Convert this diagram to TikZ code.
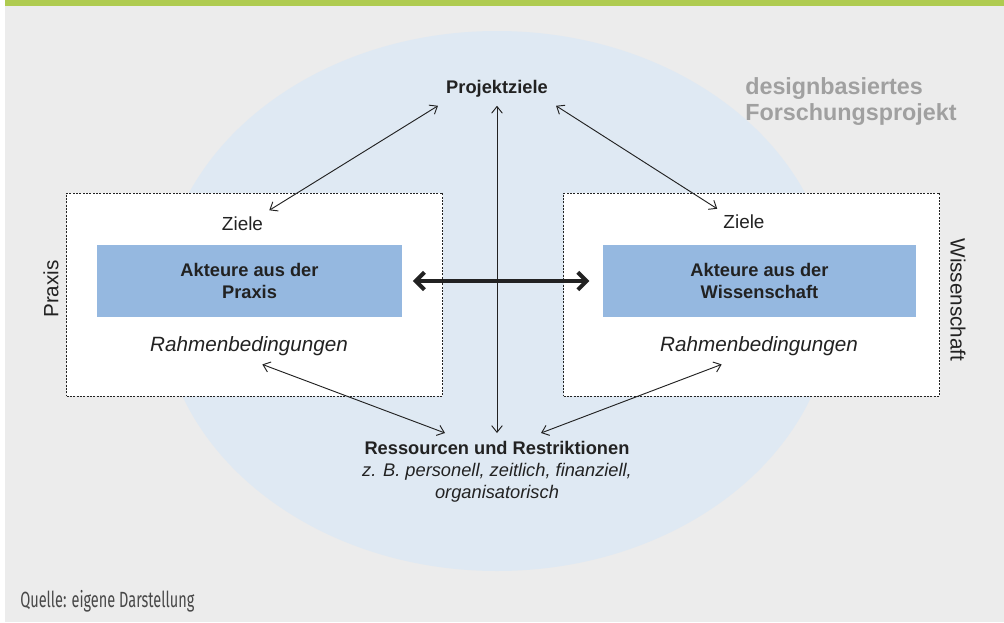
\documentclass[tikz,border=0pt]{standalone}
\usepackage{fontspec}
\setmainfont{Liberation Sans}
\newfontfamily\quellefont[FakeStretch=0.66]{Fira Sans}
\usetikzlibrary{shapes, calc, arrows.meta, positioning}
\definecolor{barGreen}{RGB}{175,203,80}
\definecolor{bgGray}{RGB}{236,236,236}
\definecolor{projBlue}{RGB}{223,233,243}
\definecolor{actorBlue}{RGB}{149,184,224}
\definecolor{textDark}{RGB}{34,34,34}
\definecolor{headGray}{RGB}{160,160,160}
\definecolor{srcGray}{RGB}{72,72,72}
\tikzstyle{frameBox}=[draw=textDark, dash pattern=on 1.5pt off 1pt, line width=0.6pt, fill=white, minimum width=282pt, minimum height=152.25pt, inner sep=0pt]
\tikzstyle{actorBox}=[fill=actorBlue, minimum height=54pt, align=center, text=textDark, font=\bfseries\fontsize{13.7}{16.3}\selectfont]
\tikzstyle{zieleText}=[text=textDark, inner sep=4.5pt, font=\fontsize{14.2}{17}\selectfont]
\tikzstyle{rahmen}=[text=textDark, inner sep=6pt, font=\itshape\fontsize{15.5}{18}\selectfont]
\tikzstyle{side}=[text=textDark, font=\fontsize{15.5}{18}\selectfont]
\tikzstyle{mutual}=[{Straight Barb[length=5pt,width=8pt]}-{Straight Barb[length=5pt,width=8pt]}, line width=0.7pt, draw=textDark]
\tikzstyle{strongMutual}=[{Straight Barb[length=6.5pt,width=13pt]}-{Straight Barb[length=6.5pt,width=13pt]}, line width=3pt, draw=textDark]

\begin{document}
\begin{tikzpicture}[x=0.75pt, y=-0.75pt]
    \useasboundingbox (0,0) rectangle (1004,622);
    \fill[bgGray] (5,6) rectangle (1004,622);
    \fill[barGreen] (5,0) rectangle (1004,6);
    \fill[projBlue] (497,301) ellipse [x radius=336, y radius=270];

    \node (heading)[anchor=north west, align=left, inner sep=0pt, text=headGray, font=\bfseries\fontsize{17.5}{19.5}\selectfont] at (745,77) {designbasiertes\\Forschungsprojekt};
    \node (pz)[text=textDark, inner sep=6pt, font=\bfseries\fontsize{13.7}{16}\selectfont] at (497,89) {Projektziele};

    % Praxis
    \node (praxisBox)[frameBox] at (254.5,294.5) {};
    \node (praxis)[side, rotate=90] at (51,289) {Praxis};
    \node (zl)[zieleText] at (242.5,223.5) {Ziele};
    \node (pbl)[actorBox, minimum width=228.75pt] at (249.5,281) {Akteure aus der\\Praxis};
    \node (rbl)[rahmen] at (249,346.5) {Rahmenbedingungen};

    % Wissenschaft
    \node (wissBox)[frameBox] at (751.5,294.5) {};
    \node (wiss)[side, rotate=-90] at (958,300) {Wissenschaft};
    \node (zr)[zieleText] at (744,222) {Ziele};
    \node (wbl)[actorBox, minimum width=234.75pt] at (759.5,281) {Akteure aus der\\Wissenschaft};
    \node (rbr)[rahmen] at (759,346.5) {Rahmenbedingungen};

    \node (rr)[anchor=north, align=center, inner xsep=0pt, inner ysep=6pt, text=textDark, font=\fontsize{13.7}{16.5}\selectfont] at (497,433)
        {\textbf{Ressourcen und Restriktionen}\\\textit{z. B. personell, zeitlich, finanziell,}\\\textit{organisatorisch}};

    \node (quelle)[anchor=base west, inner sep=0pt, text=srcGray, font=\quellefont\fontsize{16.5}{19}\selectfont] at (20,607) {Quelle: eigene Darstellung};

    \draw[strongMutual, shorten <=8pt, shorten >=10pt] (pbl.east) -- (wbl.west);
    \draw[mutual] (pz.south west) -- (zl.north east);
    \draw[mutual] (pz.south east) -- (zr.north west);
    \draw[mutual] (pz.south) -- (rr.north);
    \draw[mutual] ([xshift=10pt]rbl.south) -- ([xshift=-39pt]rr.north);
    \draw[mutual] ([xshift=-28pt]rbr.south) -- ([xshift=33pt]rr.north);

\end{tikzpicture}
\end{document}
